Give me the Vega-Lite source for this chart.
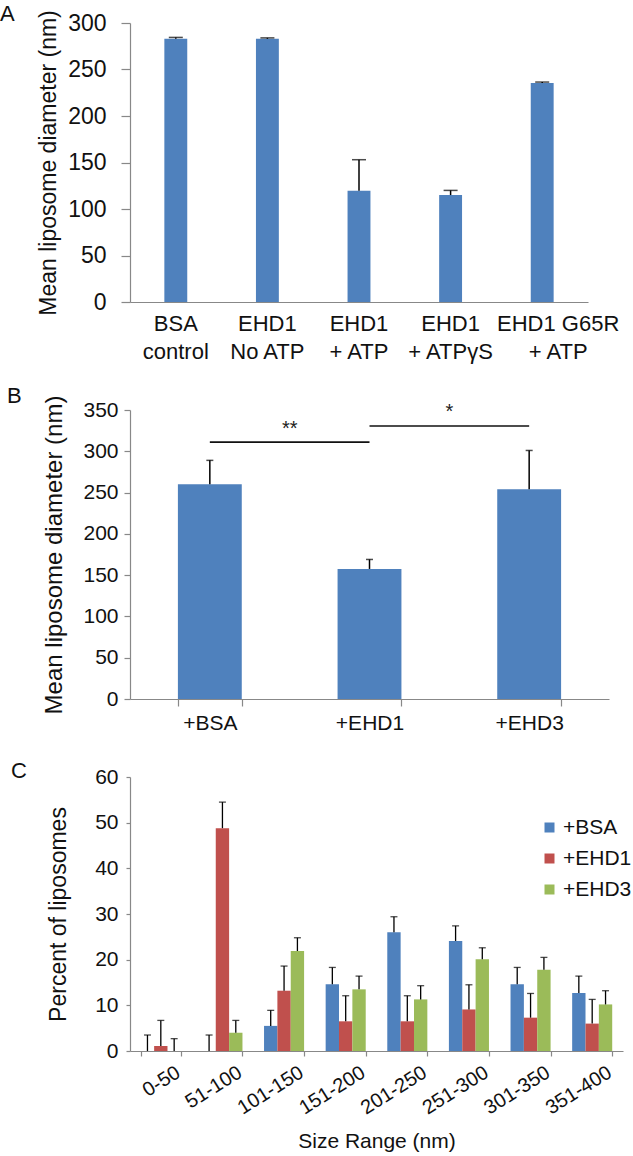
{
  "$schema": "https://vega.github.io/schema/vega-lite/v6.json",
  "padding": {"left": 0, "top": 2, "right": 0, "bottom": 0},
  "config": {
    "font": "Liberation Sans",
    "view": {"stroke": null},
    "axis": {"grid": false, "domainColor": "#888888", "tickColor": "#888888", "labelColor": "#111111", "titleColor": "#111111", "titleFontWeight": "normal", "domainWidth": 1.2, "tickWidth": 1.2},
    "title": {"fontWeight": "normal", "color": "#111111"}
  },
  "datasets": {
    "a": [
      {"condition": "BSA\ncontrol", "mean": 283, "upper": 284.5},
      {"condition": "EHD1\nNo ATP", "mean": 283, "upper": 284},
      {"condition": "EHD1\n+ ATP", "mean": 119.5, "upper": 153},
      {"condition": "EHD1\n+ ATPγS", "mean": 115, "upper": 120},
      {"condition": "EHD1 G65R\n+ ATP", "mean": 235.5, "upper": 236.5}
    ],
    "b": [
      {"condition": "+BSA", "mean": 260, "upper": 289},
      {"condition": "+EHD1", "mean": 157.5, "upper": 169},
      {"condition": "+EHD3", "mean": 254, "upper": 301}
    ],
    "sig": [
      {"from": "+BSA", "to": "+EHD1", "line": 311, "label": "**", "labelY": 319.5},
      {"from": "+EHD1", "to": "+EHD3", "line": 330.6, "label": "*", "labelY": 340}
    ],
    "c": [
      {"range": "0-50", "group": "+BSA", "value": 0, "upper": 3.5},
      {"range": "0-50", "group": "+EHD1", "value": 1.1, "upper": 6.7},
      {"range": "0-50", "group": "+EHD3", "value": 0, "upper": 2.7},
      {"range": "51-100", "group": "+BSA", "value": 0, "upper": 3.5},
      {"range": "51-100", "group": "+EHD1", "value": 48.8, "upper": 54.5},
      {"range": "51-100", "group": "+EHD3", "value": 4.0, "upper": 6.7},
      {"range": "101-150", "group": "+BSA", "value": 5.5, "upper": 8.9},
      {"range": "101-150", "group": "+EHD1", "value": 13.2, "upper": 18.6},
      {"range": "101-150", "group": "+EHD3", "value": 21.9, "upper": 24.8},
      {"range": "151-200", "group": "+BSA", "value": 14.6, "upper": 18.3},
      {"range": "151-200", "group": "+EHD1", "value": 6.5, "upper": 12.1},
      {"range": "151-200", "group": "+EHD3", "value": 13.5, "upper": 16.4},
      {"range": "201-250", "group": "+BSA", "value": 26.0, "upper": 29.4},
      {"range": "201-250", "group": "+EHD1", "value": 6.5, "upper": 12.1},
      {"range": "201-250", "group": "+EHD3", "value": 11.3, "upper": 14.3},
      {"range": "251-300", "group": "+BSA", "value": 24.1, "upper": 27.4},
      {"range": "251-300", "group": "+EHD1", "value": 9.1, "upper": 14.5},
      {"range": "251-300", "group": "+EHD3", "value": 20.1, "upper": 22.6},
      {"range": "301-350", "group": "+BSA", "value": 14.6, "upper": 18.3},
      {"range": "301-350", "group": "+EHD1", "value": 7.3, "upper": 12.6},
      {"range": "301-350", "group": "+EHD3", "value": 17.8, "upper": 20.5},
      {"range": "351-400", "group": "+BSA", "value": 12.7, "upper": 16.4},
      {"range": "351-400", "group": "+EHD1", "value": 6.0, "upper": 11.3},
      {"range": "351-400", "group": "+EHD3", "value": 10.2, "upper": 13.2}
    ]
  },
  "columns": 1,
  "align": "none",
  "spacing": 23,
  "resolve": {"scale": {"color": "independent"}, "legend": {"color": "independent"}},
  "concat": [
    {
      "width": 458,
      "height": 279,
      "title": {"text": "A", "anchor": "start", "frame": "group", "dx": -130, "offset": -16, "fontSize": 22},
      "data": {"name": "a"},
      "encoding": {
        "x": {"field": "condition", "type": "nominal", "sort": null, "title": null,
          "scale": {"paddingInner": 0.75, "paddingOuter": 0.375},
          "axis": {"labelAngle": 0, "ticks": false, "labelPadding": 11, "labelFontSize": 22, "labelLineHeight": 28, "labelExpr": "split(datum.label, '\\n')", "labelBaseline": "top",
            "labelOffset": {"condition": {"test": "indexof(datum.value, 'G65R') >= 0", "value": 16}, "value": 0}}}
      },
      "layer": [
        {"mark": {"type": "bar", "color": "#4F81BD"},
          "encoding": {"y": {"field": "mean", "type": "quantitative", "title": "Mean liposome diameter (nm)",
            "scale": {"domain": [0, 300]},
            "axis": {"values": [0, 50, 100, 150, 200, 250, 300], "labelFontSize": 23, "titleFontSize": 23, "tickSize": 9, "labelPadding": 15, "titlePadding": 7}}}},
        {"mark": {"type": "rule", "color": "#000000", "strokeWidth": 1.5},
          "encoding": {"y": {"field": "mean", "type": "quantitative", "title": "Mean liposome diameter (nm)"}, "y2": {"field": "upper"}}},
        {"mark": {"type": "tick", "color": "#000000", "thickness": 1.5, "size": 14},
          "encoding": {"y": {"field": "upper", "type": "quantitative", "title": "Mean liposome diameter (nm)"}}}
      ]
    },
    {
      "width": 479,
      "height": 289,
      "title": {"text": "B", "anchor": "start", "frame": "group", "dx": -123, "offset": -13, "fontSize": 22},
      "layer": [
        {"data": {"name": "b"}, "mark": {"type": "bar", "color": "#4F81BD"},
          "encoding": {
            "x": {"field": "condition", "type": "nominal", "title": " ",
              "scale": {"domain": ["+BSA", "+EHD1", "+EHD3"], "paddingInner": 0.6, "paddingOuter": 0.3},
              "axis": {"labelAngle": 0, "tickBand": "extent", "tickSize": 7, "labelPadding": 6, "labelFontSize": 21, "titleFontSize": 4, "titlePadding": 0}},
            "y": {"field": "mean", "type": "quantitative", "title": "Mean liposome diameter (nm)",
              "scale": {"domain": [0, 350]},
              "axis": {"values": [0, 50, 100, 150, 200, 250, 300, 350], "labelFontSize": 21, "titleFontSize": 24, "tickSize": 6, "labelPadding": 6, "titlePadding": 16}}}},
        {"data": {"name": "b"}, "mark": {"type": "rule", "color": "#000000", "strokeWidth": 1.5},
          "encoding": {"x": {"field": "condition", "type": "nominal", "title": " "}, "y": {"field": "mean", "type": "quantitative", "title": "Mean liposome diameter (nm)"}, "y2": {"field": "upper"}}},
        {"data": {"name": "b"}, "mark": {"type": "tick", "color": "#000000", "thickness": 1.5, "size": 7},
          "encoding": {"x": {"field": "condition", "type": "nominal", "title": " "}, "y": {"field": "upper", "type": "quantitative", "title": "Mean liposome diameter (nm)"}}},
        {"data": {"name": "sig"}, "mark": {"type": "rule", "color": "#111111", "strokeWidth": 1.7},
          "encoding": {"x": {"field": "from", "type": "nominal", "title": " "}, "x2": {"field": "to"}, "y": {"field": "line", "type": "quantitative", "title": "Mean liposome diameter (nm)"}}},
        {"data": {"name": "sig"}, "mark": {"type": "text", "fontSize": 20, "baseline": "alphabetic", "color": "#222222"},
          "encoding": {"x": {"field": "from", "type": "nominal", "title": " ", "bandPosition": 1.75}, "y": {"field": "labelY", "type": "quantitative", "title": "Mean liposome diameter (nm)"}, "text": {"field": "label"}}}
      ]
    },
    {
      "width": 493,
      "height": 274,
      "title": {"text": "C", "anchor": "start", "frame": "group", "dx": -119, "offset": -17, "fontSize": 22},
      "data": {"name": "c"},
      "encoding": {
        "x": {"field": "range", "type": "nominal", "sort": null, "title": "Size Range (nm)",
          "scale": {"paddingInner": 0.35, "paddingOuter": 0.175},
          "axis": {"labelAngle": -32, "tickBand": "extent", "tickSize": 5, "labelPadding": 6, "labelOffset": 12, "labelFontSize": 20, "titleFontSize": 21, "titlePadding": 13}},
        "xOffset": {"field": "group", "type": "nominal", "sort": null, "scale": {"paddingInner": 0, "paddingOuter": 0}}
      },
      "layer": [
        {"mark": {"type": "bar"},
          "encoding": {
            "y": {"field": "value", "type": "quantitative", "title": "Percent of liposomes",
              "scale": {"domain": [0, 60]},
              "axis": {"values": [0, 10, 20, 30, 40, 50, 60], "labelFontSize": 21, "titleFontSize": 23, "tickSize": 4, "labelPadding": 8, "titlePadding": 24}},
            "color": {"field": "group", "type": "nominal", "sort": null, "title": null,
              "scale": {"domain": ["+BSA", "+EHD1", "+EHD3"], "range": ["#4F81BD", "#C0504D", "#9BBB59"]},
              "legend": {"orient": "none", "legendX": 409, "legendY": 40, "symbolType": "square", "symbolSize": 100, "symbolStrokeWidth": 0, "symbolOpacity": 1, "labelFontSize": 21, "labelOffset": 3, "rowPadding": 9, "labelColor": "#111111"}}}},
        {"mark": {"type": "rule", "color": "#000000", "strokeWidth": 1.3},
          "encoding": {"y": {"field": "value", "type": "quantitative", "title": "Percent of liposomes"}, "y2": {"field": "upper"}}},
        {"mark": {"type": "tick", "color": "#000000", "thickness": 1.3, "size": 7},
          "encoding": {"y": {"field": "upper", "type": "quantitative", "title": "Percent of liposomes"}}}
      ]
    }
  ]
}
